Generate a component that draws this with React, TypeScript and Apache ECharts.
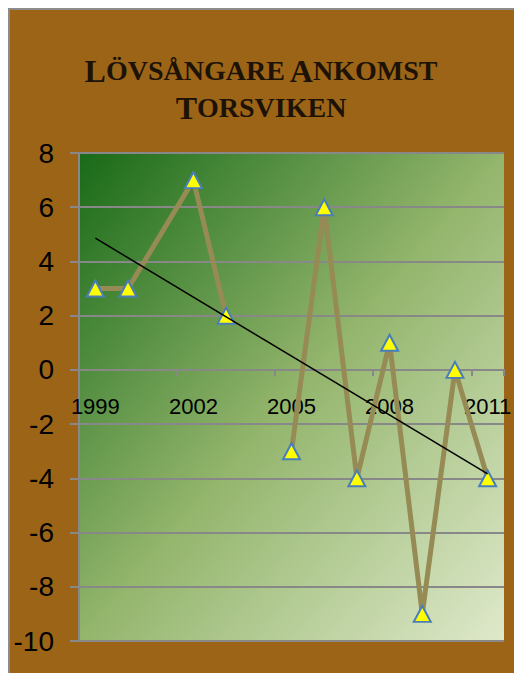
import React, { useEffect, useRef } from "react";
import * as echarts from "echarts";

const years = ["1999","2000","2001","2002","2003","2004","2005","2006","2007","2008","2009","2010","2011"];
// observed values (2001 absent -> line connects; 2004 blank -> gap)
const obsYears = ["1999","2000","2002","2003","2004","2005","2006","2007","2008","2009","2010","2011"];
const obsValues: (number | null)[] = [3, 3, 7, 2, null, -3, 6, -4, 1, -9, 0, -4];
const yTicks = { min: -10, max: 8, interval: 2 };

const W = 506;
const H = 665;
const GRID = { left: 71, top: 145, width: 425, height: 488 };

function trend() {
  const pts: [number, number][] = [];
  obsYears.forEach((y, i) => {
    const v = obsValues[i];
    if (v !== null) pts.push([years.indexOf(y), v]);
  });
  const n = pts.length;
  const mx = pts.reduce((s, p) => s + p[0], 0) / n;
  const my = pts.reduce((s, p) => s + p[1], 0) / n;
  let sxy = 0, sxx = 0;
  pts.forEach(([x, y]) => { sxy += (x - mx) * (y - my); sxx += (x - mx) * (x - mx); });
  const b = sxy / sxx;
  const a = my - b * mx;
  const last = years.length - 1;
  return [[years[0], a], [years[last], a + b * last]];
}

export default function App() {
  const ref = useRef<HTMLDivElement>(null);
  useEffect(() => {
    if (!ref.current) return;
    const chart = echarts.init(ref.current, null, { renderer: "svg", width: W, height: H });
    // distance of the zero line above the grid bottom
    const zeroOffset = (GRID.height * (0 - yTicks.min)) / (yTicks.max - yTicks.min);
    chart.setOption({
      animation: false,
      backgroundColor: "#9C6416",
      title: {
        left: "center",
        top: 39,
        text: "{b|L}{s|ÖVSÅNGARE} {b|A}{s|NKOMST}\n{b|T}{s|ORSVIKEN}",
        textStyle: {
          rich: {
            b: { fontFamily: "Liberation Serif", fontWeight: "bold", fontSize: 32, color: "#1c1206", lineHeight: 37,
                 textShadowColor: "rgba(230,190,120,0.6)", textShadowOffsetX: 1, textShadowOffsetY: 1 },
            s: { fontFamily: "Liberation Serif", fontWeight: "bold", fontSize: 28, color: "#1c1206", lineHeight: 37,
                 textShadowColor: "rgba(230,190,120,0.6)", textShadowOffsetX: 1, textShadowOffsetY: 1 },
          },
        },
      },
      graphic: [
        { type: "rect", shape: { x: 1, y: 1, width: 1200, height: 1200 }, style: { fill: "none", stroke: "#8c8c8c", lineWidth: 2 }, silent: true },
      ],
      grid: {
        ...GRID,
        containLabel: false,
        outerBoundsMode: "none",
        show: true, borderWidth: 0,
        backgroundColor: new echarts.graphic.LinearGradient(0, 0, 1, 1, [
          { offset: 0, color: "#186a18" },
          { offset: 0.5, color: "#93b56c" },
          { offset: 1, color: "#dfe9cb" },
        ]),
      },
      xAxis: {
        type: "category",
        data: years,
        boundaryGap: true,
        position: "bottom",
        offset: -zeroOffset,
        axisLine: { onZero: false, lineStyle: { color: "#888888", width: 2 } },
        axisTick: { show: true, interval: 2, length: 6, lineStyle: { color: "#888888", width: 2 } },
        axisLabel: { interval: 2, fontFamily: "Liberation Sans", fontSize: 22, color: "#000", margin: 26 },
        splitLine: { show: false },
      },
      yAxis: {
        type: "value",
        min: yTicks.min, max: yTicks.max, interval: yTicks.interval,
        axisLine: { show: true, lineStyle: { color: "#888888", width: 2 } },
        axisTick: { show: true, length: 9, lineStyle: { color: "#888888", width: 2 } },
        axisLabel: { fontFamily: "Liberation Sans", fontSize: 28, color: "#000", margin: 25 },
        splitLine: { show: true, lineStyle: { color: "#888888", width: 2 } },
      },
      series: [
        {
          type: "line",
          data: obsYears.map((y, i) => [y, obsValues[i] === null ? "-" : obsValues[i]]),
          connectNulls: false,
          lineStyle: { color: "#968b55", width: 5 },
          symbol: "triangle",
          symbolSize: [17, 16],
          itemStyle: { color: "#ffff00", borderColor: "#4a7ebb", borderWidth: 2 },
          z: 2,
        },
        {
          type: "line",
          data: trend(),
          symbol: "none",
          lineStyle: { color: "#000", width: 1.5 },
          z: 3,
        },
      ],
    });
    return () => chart.dispose();
  }, []);
  return <div ref={ref} style={{ position: "fixed", left: 8, top: 8, width: W, height: H }} />;
}
